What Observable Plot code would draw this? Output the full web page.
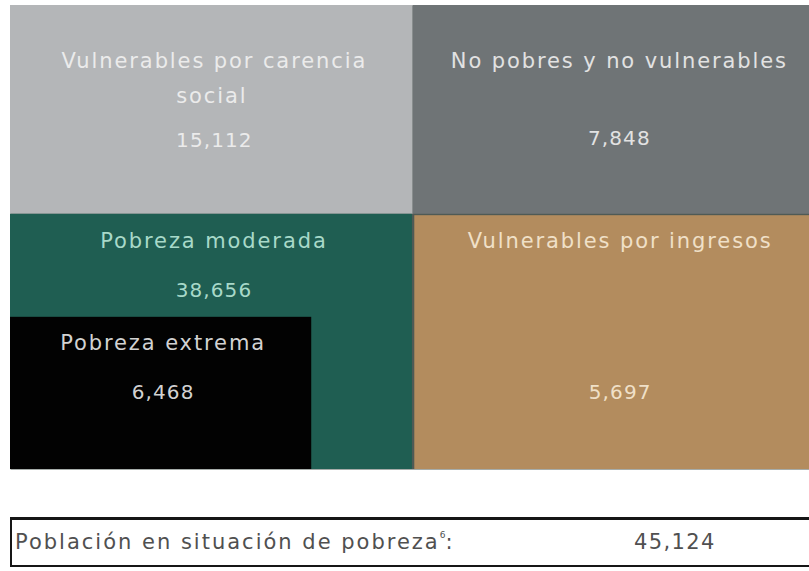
<!DOCTYPE html>
<html>
<head>
<meta charset="utf-8">
<script src="https://cdn.jsdelivr.net/npm/d3@7"></script>
<script src="https://cdn.jsdelivr.net/npm/@observablehq/plot@0.6"></script>
<style>
  html, body { margin: 0; padding: 0; background: #ffffff; }
  body { width: 809px; height: 571px; position: relative; overflow: hidden; font-family: "DejaVu Sans", sans-serif; }
  #chart { position: absolute; left: 0; top: 0; }
  #chart g.labels text { letter-spacing: 1.9px; }
  #chart g.nums text { letter-spacing: 1.1px; }
  #total {
    position: absolute; left: 10px; top: 517px; width: 812px; height: 50px;
    box-sizing: border-box; border: 2px solid #161616; border-top-width: 3px;
    color: #505050; font-size: 21px; line-height: 45px; letter-spacing: 2px;
  }
  #total .lab { position: absolute; left: 3px; top: 0; }
  #total .val { position: absolute; left: 622px; top: 0; letter-spacing: 1.4px; }
  #total sup { font-size: 9px; vertical-align: 11px; line-height: 0; letter-spacing: 0; }
</style>
</head>
<body>
<div id="chart"></div>
<div id="total"><span class="lab"></span><span class="val"></span></div>
<script>
// ---- data ----
const categories = [
  "Vulnerables por carencia social",
  "No pobres y no vulnerables",
  "Pobreza moderada",
  "Pobreza extrema",
  "Vulnerables por ingresos"
];
const displayNames = [
  "Vulnerables por carencia\nsocial",
  "No pobres y no vulnerables",
  "Pobreza moderada",
  "Pobreza extrema",
  "Vulnerables por ingresos"
];
const values = [15112, 7848, 38656, 6468, 5697];
const povertyLabel = "Población en situación de pobreza";
const povertyNote = "6";
const povertyTotal = 45124;

// ---- styles ----
const palette = ["#b4b6b8", "#6f7476", "#1f5e52", "#020202", "#b38c5e"];
const textColors = ["#ebebeb", "#e2e2e2", "#a8d9c9", "#d2d2d2", "#f0e0c8"];

// ---- diagram layout (percent of the panel; y measured from the top) ----
const layout = [
  {x1: 0,    x2: 50.4, y1: 0,    y2: 45.0, ly: 14.8, vy: 29.1, dx: 2.5},
  {x1: 50.4, x2: 100,  y1: 0,    y2: 45.0, ly: 11.0, vy: 28.7, dx: 8},
  {x1: 0,    x2: 50.3, y1: 45.0, y2: 100,  ly: 4.8,  vy: 16.4, dx: 2.5},
  {x1: 0,    x2: 37.7, y1: 67.2, y2: 100,  ly: 4.6,  vy: 16.2, dx: 2},
  {x1: 50.6, x2: 100,  y1: 45.3, y2: 100,  ly: 4.6,  vy: 38.1, dx: 8}
];

const fmt = d3.format(",");
const table = categories.map((c, i) => ({
  category: c,
  name: displayNames[i],
  value: values[i],
  tcolor: textColors[i],
  ...layout[i]
}));

const chart = Plot.plot({
  width: 809,
  height: 475,
  marginLeft: 10,
  marginRight: 0,
  marginTop: 5,
  marginBottom: 6,
  x: {domain: [0, 100], axis: null},
  y: {domain: [0, 100], reverse: true, axis: null},
  color: {type: "ordinal", domain: categories, range: palette},
  style: {fontFamily: "'DejaVu Sans', sans-serif", background: "#ffffff"},
  marks: [
    Plot.frame({fill: "#4f5a55", stroke: null}),
    Plot.rect(table, {x1: "x1", x2: "x2", y1: "y1", y2: "y2", fill: "category"}),
    Plot.text(table, {
      x: d => (d.x1 + d.x2) / 2,
      y: d => d.y1 + d.ly,
      text: "name",
      fill: d => d.tcolor,
      fontSize: 21,
      lineHeight: 1.65,
      textAnchor: "middle",
      lineAnchor: "middle",
      className: "labels"
    }),
    Plot.text(table, {
      x: d => (d.x1 + d.x2) / 2,
      y: d => d.y1 + d.vy,
      text: d => fmt(d.value),
      fill: d => d.tcolor,
      fontSize: 20,
      textAnchor: "middle",
      lineAnchor: "middle",
      className: "nums"
    })
  ]
});
document.getElementById("chart").appendChild(chart);

// small optical horizontal offsets per box
chart.querySelectorAll("g[aria-label='text']").forEach(g => {
  g.querySelectorAll("text").forEach((t, i) => {
    t.setAttribute("dx", table[i].dx);
  });
});

document.querySelector("#total .lab").innerHTML = povertyLabel + "<sup>" + povertyNote + "</sup>:";
document.querySelector("#total .val").textContent = fmt(povertyTotal);
</script>
</body>
</html>
